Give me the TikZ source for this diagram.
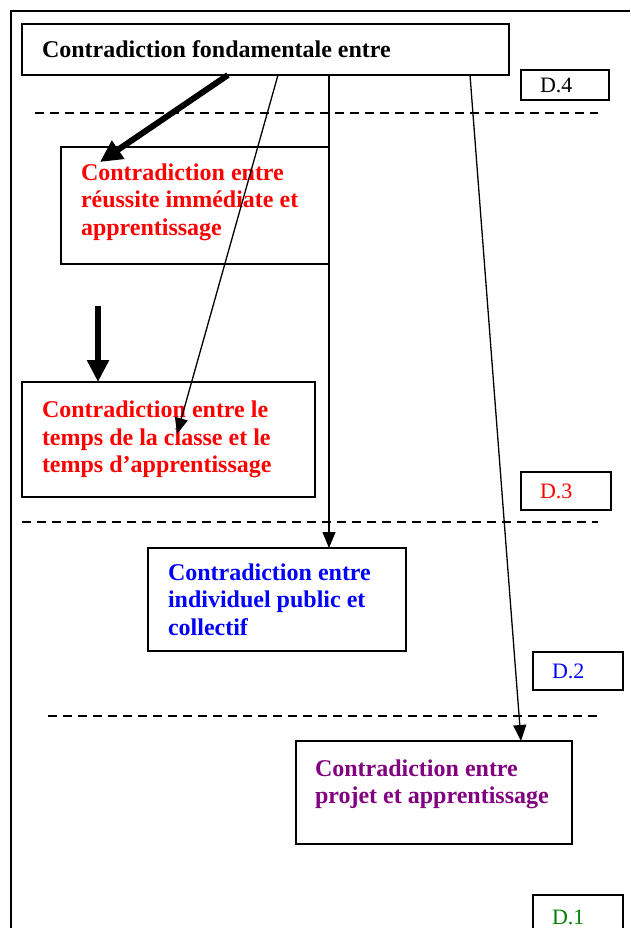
\documentclass[tikz,border=0pt]{standalone}
\usepackage{fontspec}
\setmainfont{Liberation Serif}
\usetikzlibrary{arrows.meta}
\definecolor{dpurple}{RGB}{128,0,128}
\definecolor{dgreen}{RGB}{0,128,0}

\begin{document}
\begin{tikzpicture}[x=1pt,y=-1pt,
    box/.style ={draw, line width=2pt, anchor=north west, inner xsep=20pt,
      inner ysep=0pt, outer sep=0pt, align=flush left,
      font=\fontsize{24}{27.6}\selectfont\bfseries},
    level/.style ={draw, line width=2pt, anchor=north west, inner xsep=19pt,
      inner ysep=0pt, outer sep=0pt, align=flush left,
      font=\fontsize{22}{24}\selectfont},
    separator/.style ={line width=2pt, dash pattern=on 9pt off 6pt},
    thin arrow/.style ={line width=1.3pt, -{Triangle[length=16pt,width=13pt]}},
    thick arrow/.style ={line width=6pt, -{Triangle[length=22pt,width=21pt]}}]
   \useasboundingbox (0,0) rectangle (630,928);

   % frame
   \draw[line width=2pt] (11,928) -- (11,11) -- (630,11);

   % contradictions
   \node[box, text width=447pt, minimum height=51pt] (fond) at (22,24)
     {Contradiction fondamentale entre};
   \node[box, text=red, text width=228pt, minimum height=117pt,
     text depth=67pt] (reussite) at (61,147)
     {Contradiction entre\\réussite immédiate et\\apprentissage};
   \node[box, text=red, text width=253pt, minimum height=115pt] (temps) at (22,382)
     {Contradiction entre le\\temps de la classe et le\\temps d’apprentissage};
   \node[box, text=blue, text width=218pt, minimum height=103pt] (public) at (148,548)
     {Contradiction entre\\individuel public et\\collectif};
   \node[box, text=dpurple, inner xsep=19pt, text width=238pt, minimum height=103pt,
     text depth=49pt] (projet) at (296,741)
     {Contradiction entre\\projet et apprentissage};

   % levels
   \node[level, text width=50pt, minimum height=30pt] (d4) at (521,70) {D.4};
   \node[level, text=red, text width=52pt, minimum height=38pt] (d3) at (521,472) {D.3};
   \node[level, text=blue, text width=52pt, minimum height=38pt] (d2) at (533,652) {D.2};
   \node[level, text=dgreen, text width=52pt, minimum height=45pt] (d1) at (533,895) {D.1};

   \draw[separator] (35,113) -- (598,113);
   \draw[separator] (22,522) -- (598,522);
   \draw[separator] (48,716) -- (598,716);

   % arrows
   \coordinate (f1) at (228,75);
   \coordinate (f2) at (278,75);
   \coordinate (f3) at (329,75);
   \coordinate (f4) at (470,75);
   \coordinate (r1) at (100,162);
   \coordinate (t0) at (98,306);
   \coordinate (t1) at (98,382);
   \coordinate (t2) at (177,434);
   \coordinate (p1) at (329,548);
   \coordinate (j1) at (521,741);

   \draw[thick arrow] (f1) to (r1);
   \draw[thick arrow] (t0) to (t1);
   \draw[thin arrow] (f2) to (t2);
   \draw[thin arrow] (f3) to (p1);
   \draw[thin arrow] (f4) to (j1);
 \end{tikzpicture}
\end{document}
